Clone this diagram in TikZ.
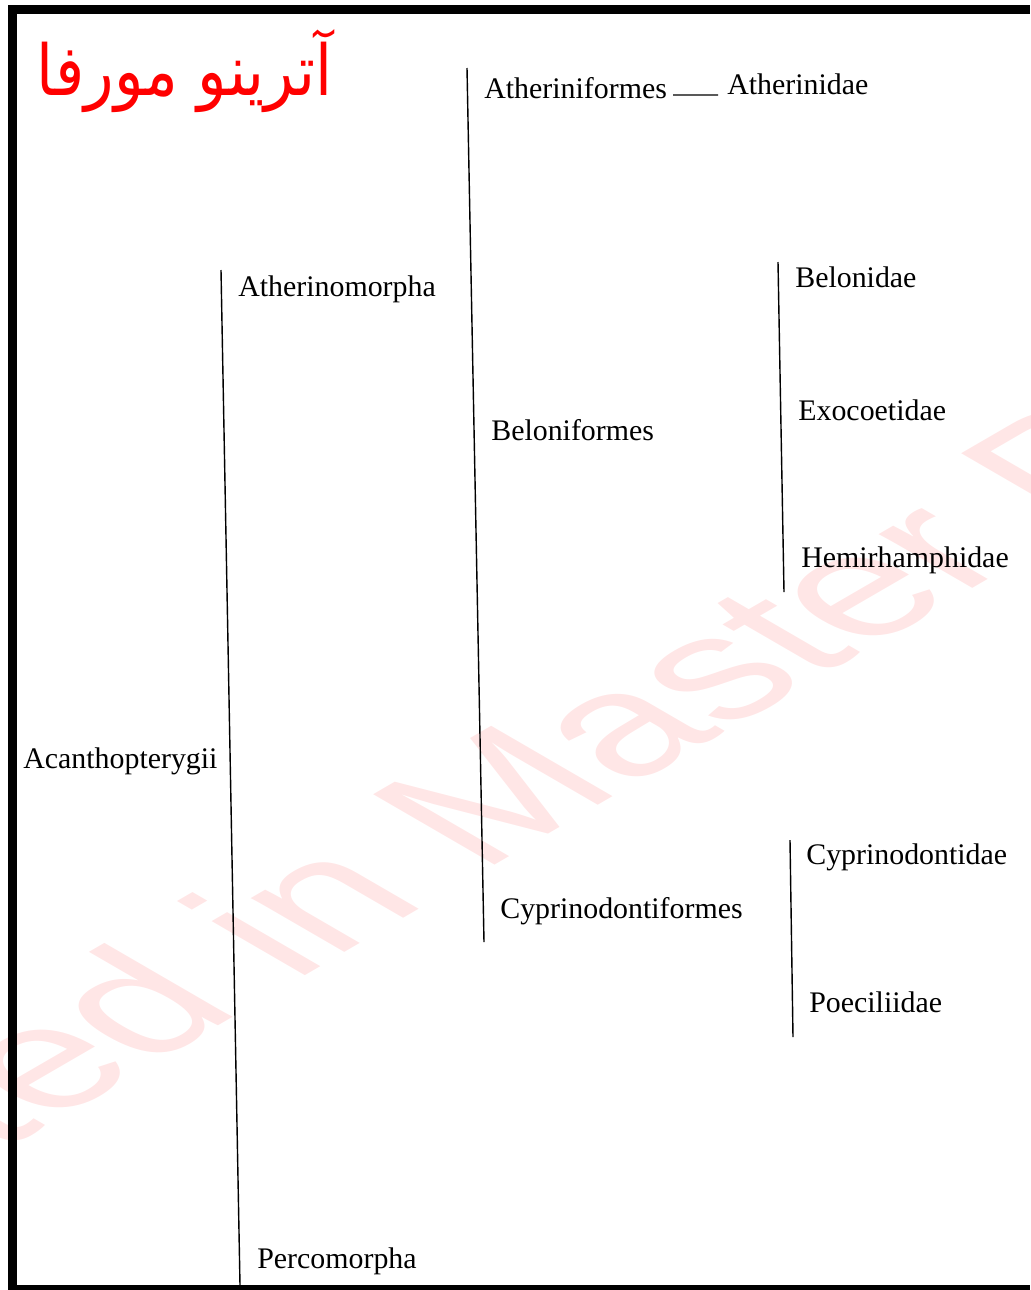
\documentclass[tikz,border=0pt]{standalone}
\usepackage{fontspec}
\setmainfont{Liberation Serif}
\newfontfamily\persianfont[Script=Arabic,FakeStretch=0.87]{DejaVu Sans}
\newfontfamily\markfont{Liberation Sans}
\TeXXeTstate=1
\usepackage{xcolor}
\definecolor{markpink}{RGB}{255,230,230}

\begin{document}
\begin{tikzpicture}[
  taxon/.style={anchor=base west, inner sep=0pt,
    font=\fontsize{17}{20}\selectfont},
  bar/.style={line width=0.8pt, draw=black},
  frame/.style={fill=black},
  wmark/.style={text=markpink, inner sep=0pt, transform shape,
    font=\markfont\fontsize{142}{150}\selectfont},
  heading/.style={anchor=base east, inner sep=0pt, text=red,
    font=\persianfont\fontsize{40}{44}\selectfont}
]
\useasboundingbox (0,0) rectangle (20.6,-25.8);
\begin{scope}
  \clip (0,0) rectangle (20.6,-25.8);
  \begin{scope}[shift={(9.60,-17.48)}, yscale=0.58]
    \node[wmark, rotate=45, anchor=base west] (markMaster) at (0,0)
      {Master PDF Editor};
    \node[wmark, rotate=45, anchor=base east] (markCreated)
      at (markMaster.base west) {Created in\kern0.278em};
  \end{scope}
\end{scope}
\fill[frame] (0.16,-0.10) rectangle (20.6,-0.27);
\fill[frame] (0.16,-0.10) rectangle (0.33,-25.8);
\fill[frame] (0.16,-25.70) rectangle (20.6,-25.8);

\node[heading] (title) at (6.66,-1.90) {\beginR آترینو مورفا\endR};

\coordinate (acanthTop) at (4.42,-5.40);
\coordinate (acanthBot) at (4.80,-25.70);
\coordinate (atheriTop) at (9.34,-1.36);
\coordinate (atheriBot) at (9.68,-18.84);
\coordinate (beloTop) at (15.56,-5.24);
\coordinate (beloBot) at (15.68,-11.84);
\coordinate (cyprTop) at (15.80,-16.80);
\coordinate (cyprBot) at (15.86,-20.74);

\node[taxon] (acanth) at (0.46,-15.36) {Acanthopterygii};
\node[taxon] (atherinomorpha) at (4.76,-5.92) {Atherinomorpha};
\node[taxon] (percomorpha) at (5.14,-25.36) {Percomorpha};
\node[taxon] (atheriniformes) at (9.68,-1.96) {Atheriniformes};
\node[taxon] (atherinidae) at (14.54,-1.88) {Atherinidae};
\node[taxon] (beloniformes) at (9.82,-8.80) {Beloniformes};
\node[taxon] (cyprinodontiformes) at (10.00,-18.36) {Cyprinodontiformes};
\node[taxon] (belonidae) at (15.90,-5.74) {Belonidae};
\node[taxon] (exocoetidae) at (15.96,-8.40) {Exocoetidae};
\node[taxon] (hemirhamphidae) at (16.02,-11.34) {Hemirhamphidae};
\node[taxon] (cyprinodontidae) at (16.12,-17.28) {Cyprinodontidae};
\node[taxon] (poeciliidae) at (16.18,-20.24) {Poeciliidae};

\draw[bar] (acanthTop) -- (acanthBot);
\draw[bar] (atheriTop) -- (atheriBot);
\draw[bar] (beloTop) -- (beloBot);
\draw[bar] (cyprTop) -- (cyprBot);
\draw[bar] ([xshift=0.12cm,yshift=0.06cm]atheriniformes.base east)
  -- ([xshift=-0.18cm,yshift=-0.02cm]atherinidae.base west);
\end{tikzpicture}
\end{document}
